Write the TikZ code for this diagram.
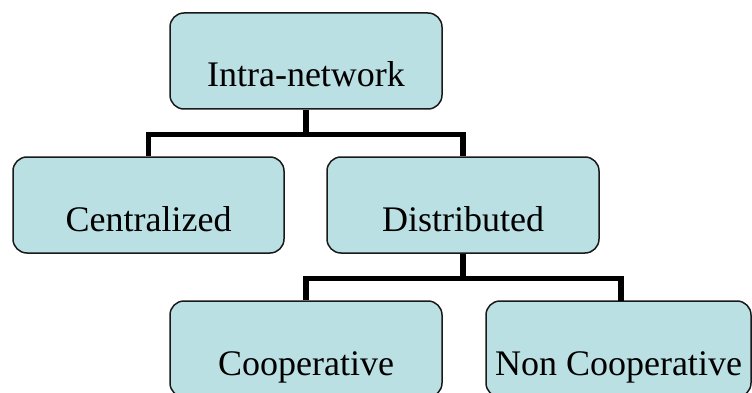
\documentclass[tikz,border=0pt]{standalone}
\usepackage{fontspec}
\setmainfont{Liberation Serif}
\begin{document}
\begin{tikzpicture}[x=1pt,y=1pt,
  catbox/.style={draw=black!90, line width=1.5pt, fill=boxfill,
    rounded corners=14pt, minimum height=96pt, inner sep=0pt,
    font=\fontsize{36}{40}\selectfont, text height=60pt, text depth=8pt},
  link/.style={line width=5.5pt, draw=black, line join=miter}]
\definecolor{boxfill}{HTML}{BBE0E3}
\useasboundingbox (0,0) rectangle (752,-393);
\clip (0,0) rectangle (752,-393);
% category boxes
\node[catbox, minimum width=272pt] (intra) at (306,-61) {Intra-network};
\node[catbox, minimum width=271pt] (cent)  at (148.5,-205) {Centralized};
\node[catbox, minimum width=272pt] (dist)  at (463,-205) {Distributed};
\node[catbox, minimum width=272pt] (coop)  at (306,-349) {Cooperative};
\node[catbox, minimum width=265pt] (ncoop) at (618.5,-349) {Non Cooperative};
% tree connectors
\coordinate (j1) at (306,-134.5);
\coordinate (j2) at (463,-278.5);
\coordinate (ncin) at (621,-301);
\draw[link] (intra.south) -- (j1);
\draw[link] (cent.north) |- (j1) -| (dist.north);
\draw[link] (dist.south) -- (j2);
\draw[link] (coop.north) |- (j2) -| (ncin);
\end{tikzpicture}
\end{document}
